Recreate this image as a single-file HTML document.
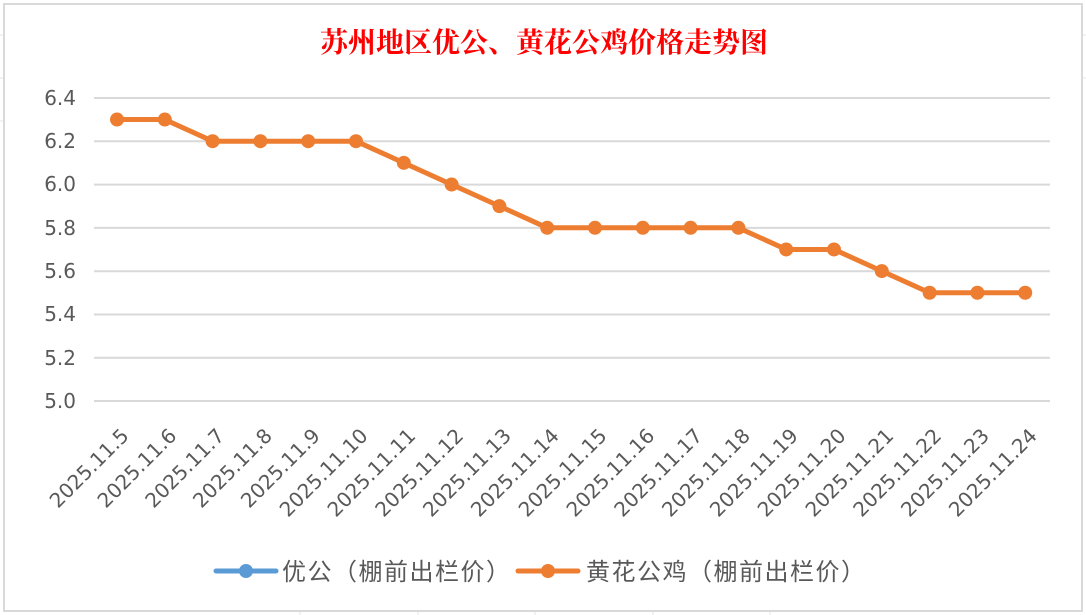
<!DOCTYPE html>
<html><head><meta charset="utf-8"><style>body{margin:0;background:#fff}svg{display:block}</style></head><body>
<svg width="1086" height="615" xmlns="http://www.w3.org/2000/svg" font-family="'DejaVu Sans','Noto Sans CJK SC',sans-serif">
<rect width="1086" height="615" fill="#fff"/>
<g stroke="#e6e6e6" stroke-width="1">
<line x1="0" y1="35" x2="4" y2="35"/><line x1="0" y1="78" x2="4" y2="78"/><line x1="0" y1="121" x2="4" y2="121"/>
<line x1="1082" y1="35" x2="1086" y2="35"/><line x1="1082" y1="78" x2="1086" y2="78"/>
<line x1="300" y1="611" x2="300" y2="615"/><line x1="418" y1="611" x2="418" y2="615"/><line x1="535" y1="611" x2="535" y2="615"/><line x1="653" y1="611" x2="653" y2="615"/><line x1="770" y1="611" x2="770" y2="615"/>
</g>
<rect x="4" y="4" width="1078" height="607" fill="#fff" stroke="#d9d9d9" stroke-width="2"/>
<text x="544" y="52" text-anchor="middle" fill="#ff0000" font-size="28" font-weight="bold" font-family="'Liberation Serif','Noto Serif CJK SC',serif">苏州地区优公、黄花公鸡价格走势图</text>
<g stroke="#d9d9d9" stroke-width="2">
<line x1="94" x2="1050" y1="98" y2="98"/><line x1="94" x2="1050" y1="141.3" y2="141.3"/><line x1="94" x2="1050" y1="184.6" y2="184.6"/><line x1="94" x2="1050" y1="227.9" y2="227.9"/><line x1="94" x2="1050" y1="271.2" y2="271.2"/><line x1="94" x2="1050" y1="314.5" y2="314.5"/><line x1="94" x2="1050" y1="357.8" y2="357.8"/><line x1="94" x2="1050" y1="401" y2="401"/>
</g>
<g fill="#595959" font-size="20" text-anchor="end">
<text x="76" y="105">6.4</text><text x="76" y="148">6.2</text><text x="76" y="191">6.0</text><text x="76" y="235">5.8</text><text x="76" y="278">5.6</text><text x="76" y="321">5.4</text><text x="76" y="365">5.2</text><text x="76" y="408">5.0</text>
</g>
<g id="lbl" fill="#595959" font-size="20" text-anchor="end"></g>
<polyline id="ln" fill="none" stroke="#ed7d31" stroke-width="5" stroke-linejoin="round"/>
<g id="pts" fill="#ed7d31"></g>
<line x1="216" y1="571" x2="276" y2="571" stroke="#5b9bd5" stroke-width="5" stroke-linecap="round"/><circle cx="246" cy="571" r="7" fill="#5b9bd5"/>
<text x="282" y="580" fill="#595959" font-size="24" letter-spacing="1.5">优公（棚前出栏价）</text>
<line x1="518" y1="571" x2="578" y2="571" stroke="#ed7d31" stroke-width="5" stroke-linecap="round"/><circle cx="548" cy="571" r="7" fill="#ed7d31"/>
<text x="586" y="580" fill="#595959" font-size="24" letter-spacing="1.5">黄花公鸡（棚前出栏价）</text>
<script>
var v=[6.3,6.3,6.2,6.2,6.2,6.2,6.1,6.0,5.9,5.8,5.8,5.8,5.8,5.8,5.7,5.7,5.6,5.5,5.5,5.5];
var ns="http://www.w3.org/2000/svg",p=[],g=document.getElementById('pts'),l=document.getElementById('lbl');
v.forEach(function(d,i){var x=117+i*47.8,y=401-(d-5)*216.5;p.push(x+','+y);
var c=document.createElementNS(ns,'circle');c.setAttribute('cx',x);c.setAttribute('cy',y);c.setAttribute('r',7);g.appendChild(c);
var t=document.createElementNS(ns,'text');t.setAttribute('transform','translate('+(x+13)+',437) rotate(-45)');t.textContent='2025.11.'+(i+5);l.appendChild(t);});
document.getElementById('ln').setAttribute('points',p.join(' '));
</script>
</svg>
</body></html>
